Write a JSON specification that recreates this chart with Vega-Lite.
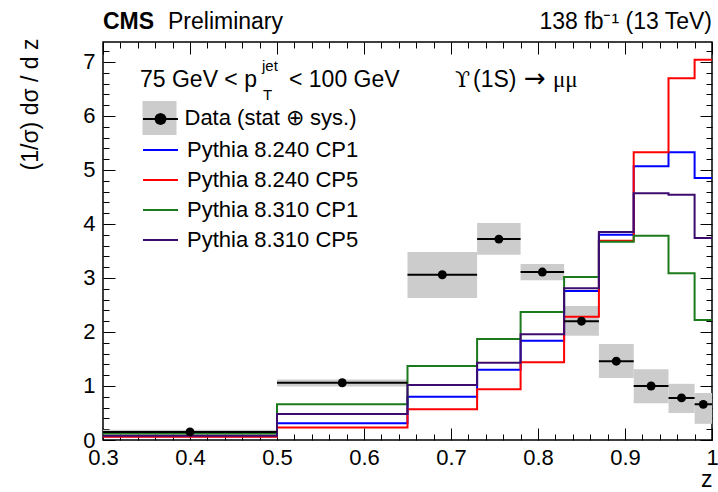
{
  "$schema": "https://vega.github.io/schema/vega-lite/v6.json",
  "width": 609,
  "height": 398,
  "autosize": {"type": "none"},
  "padding": {"left": 103, "top": 42, "right": 6, "bottom": 52},
  "background": "white",
  "config": {
    "view": {"stroke": "black", "strokeWidth": 1.5},
    "font": "Liberation Sans",
    "axis": {"grid": false, "domain": false, "labelFont": "Liberation Sans", "labelFontSize": 22, "labelColor": "black", "tickColor": "black", "tickWidth": 1, "titleFont": "Liberation Sans", "titleFontSize": 23, "titleFontWeight": "normal", "titleColor": "black", "labelFlush": false, "labelOverlap": false},
    "legend": {"labelFont": "Liberation Sans", "labelFontSize": 22, "labelColor": "black", "labelLimit": 500, "padding": 0, "rowPadding": 0, "offset": 0}
  },
  "datasets": {
    "data": [
      {"lo": 0.30, "hi": 0.50, "z": 0.400, "v": 0.15, "elo": 0.10, "ehi": 0.19},
      {"lo": 0.50, "hi": 0.65, "z": 0.575, "v": 1.06, "elo": 0.99, "ehi": 1.12},
      {"lo": 0.65, "hi": 0.73, "z": 0.690, "v": 3.06, "elo": 2.63, "ehi": 3.48},
      {"lo": 0.73, "hi": 0.78, "z": 0.755, "v": 3.72, "elo": 3.43, "ehi": 4.02},
      {"lo": 0.78, "hi": 0.83, "z": 0.805, "v": 3.11, "elo": 2.96, "ehi": 3.26},
      {"lo": 0.83, "hi": 0.87, "z": 0.850, "v": 2.20, "elo": 1.93, "ehi": 2.48},
      {"lo": 0.87, "hi": 0.91, "z": 0.890, "v": 1.46, "elo": 1.15, "ehi": 1.78},
      {"lo": 0.91, "hi": 0.95, "z": 0.930, "v": 1.00, "elo": 0.68, "ehi": 1.31},
      {"lo": 0.95, "hi": 0.98, "z": 0.965, "v": 0.78, "elo": 0.50, "ehi": 1.04},
      {"lo": 0.98, "hi": 1.00, "z": 0.990, "v": 0.66, "elo": 0.30, "ehi": 0.87}
    ],
    "mc": [
      {"s": "Pythia 8.240 CP1", "z": 0.30, "v": 0.07},
      {"s": "Pythia 8.240 CP1", "z": 0.50, "v": 0.31},
      {"s": "Pythia 8.240 CP1", "z": 0.65, "v": 0.80},
      {"s": "Pythia 8.240 CP1", "z": 0.73, "v": 1.30},
      {"s": "Pythia 8.240 CP1", "z": 0.78, "v": 1.84},
      {"s": "Pythia 8.240 CP1", "z": 0.83, "v": 2.76},
      {"s": "Pythia 8.240 CP1", "z": 0.87, "v": 3.80},
      {"s": "Pythia 8.240 CP1", "z": 0.91, "v": 5.07},
      {"s": "Pythia 8.240 CP1", "z": 0.95, "v": 5.33},
      {"s": "Pythia 8.240 CP1", "z": 0.98, "v": 4.85},
      {"s": "Pythia 8.240 CP1", "z": 1.00, "v": 4.85},
      {"s": "Pythia 8.240 CP5", "z": 0.30, "v": 0.06},
      {"s": "Pythia 8.240 CP5", "z": 0.50, "v": 0.23},
      {"s": "Pythia 8.240 CP5", "z": 0.65, "v": 0.57},
      {"s": "Pythia 8.240 CP5", "z": 0.73, "v": 0.94},
      {"s": "Pythia 8.240 CP5", "z": 0.78, "v": 1.44},
      {"s": "Pythia 8.240 CP5", "z": 0.83, "v": 2.28},
      {"s": "Pythia 8.240 CP5", "z": 0.87, "v": 3.69},
      {"s": "Pythia 8.240 CP5", "z": 0.91, "v": 5.33},
      {"s": "Pythia 8.240 CP5", "z": 0.95, "v": 6.70},
      {"s": "Pythia 8.240 CP5", "z": 0.98, "v": 7.04},
      {"s": "Pythia 8.240 CP5", "z": 1.00, "v": 7.04},
      {"s": "Pythia 8.310 CP1", "z": 0.30, "v": 0.12},
      {"s": "Pythia 8.310 CP1", "z": 0.50, "v": 0.66},
      {"s": "Pythia 8.310 CP1", "z": 0.65, "v": 1.37},
      {"s": "Pythia 8.310 CP1", "z": 0.73, "v": 1.87},
      {"s": "Pythia 8.310 CP1", "z": 0.78, "v": 2.37},
      {"s": "Pythia 8.310 CP1", "z": 0.83, "v": 3.02},
      {"s": "Pythia 8.310 CP1", "z": 0.87, "v": 3.67},
      {"s": "Pythia 8.310 CP1", "z": 0.91, "v": 3.78},
      {"s": "Pythia 8.310 CP1", "z": 0.95, "v": 3.09},
      {"s": "Pythia 8.310 CP1", "z": 0.98, "v": 2.22},
      {"s": "Pythia 8.310 CP1", "z": 1.00, "v": 2.22},
      {"s": "Pythia 8.310 CP5", "z": 0.30, "v": 0.08},
      {"s": "Pythia 8.310 CP5", "z": 0.50, "v": 0.48},
      {"s": "Pythia 8.310 CP5", "z": 0.65, "v": 1.02},
      {"s": "Pythia 8.310 CP5", "z": 0.73, "v": 1.43},
      {"s": "Pythia 8.310 CP5", "z": 0.78, "v": 1.96},
      {"s": "Pythia 8.310 CP5", "z": 0.83, "v": 2.81},
      {"s": "Pythia 8.310 CP5", "z": 0.87, "v": 3.85},
      {"s": "Pythia 8.310 CP5", "z": 0.91, "v": 4.57},
      {"s": "Pythia 8.310 CP5", "z": 0.95, "v": 4.54},
      {"s": "Pythia 8.310 CP5", "z": 0.98, "v": 3.74},
      {"s": "Pythia 8.310 CP5", "z": 1.00, "v": 3.74}
    ]
  },
  "resolve": {"axis": {"x": "independent", "y": "independent"}},
  "layer": [
    {
      "data": {"name": "data"},
      "mark": {"type": "rect", "color": "#cccccc"},
      "encoding": {
        "x": {"field": "lo", "type": "quantitative",
          "scale": {"domain": [0.3, 1.0], "nice": false, "zero": false},
          "axis": {"orient": "bottom", "values": [0.3, 0.4, 0.5, 0.6, 0.7, 0.8, 0.9, 1.0], "tickSize": -12, "labelPadding": 19,
            "labelExpr": "datum.value >= 0.999 ? '1' : format(datum.value, '.1f')",
            "title": "z", "titleAlign": "right", "titleBaseline": "alphabetic", "titleX": 609, "titleY": 46}},
        "x2": {"field": "hi"},
        "y": {"field": "elo", "type": "quantitative",
          "scale": {"domain": [0, 7.37], "nice": false, "zero": false},
          "axis": {"orient": "left", "values": [0, 1, 2, 3, 4, 5, 6, 7], "tickSize": -12, "labelPadding": 20,
            "title": "(1/σ) dσ / d z", "titleAngle": -90, "titleAlign": "right", "titleBaseline": "alphabetic", "titleX": -66, "titleY": -4}},
        "y2": {"field": "ehi"},
        "fill": {"datum": "Data (stat ⊕ sys.)", "type": "nominal", "scale": {"range": ["#cccccc"]},
          "legend": {"orient": "none", "legendX": 39.5, "legendY": 59, "title": null, "symbolType": "square", "symbolSize": 1156, "symbolStrokeWidth": 0, "labelOffset": 8, "zindex": 1}}
      }
    },
    {
      "data": {"name": "mc"},
      "mark": {"type": "line", "interpolate": "step-after", "strokeWidth": 2},
      "encoding": {
        "x": {"field": "z", "type": "quantitative",
          "axis": {"orient": "top", "values": [0.3, 0.4, 0.5, 0.6, 0.7, 0.8, 0.9, 1.0], "tickSize": -12, "labels": false, "title": null}},
        "y": {"field": "v", "type": "quantitative",
          "axis": {"orient": "right", "values": [0, 1, 2, 3, 4, 5, 6, 7], "tickSize": -12, "labels": false, "title": null}},
        "color": {"field": "s", "type": "nominal",
          "scale": {"domain": ["Pythia 8.240 CP1", "Pythia 8.240 CP5", "Pythia 8.310 CP1", "Pythia 8.310 CP5"], "range": ["#0000ff", "#ff0000", "#1b7a1b", "#3b0c6e"]},
          "legend": {"orient": "none", "legendX": 39, "legendY": 89.5, "title": null, "symbolType": "stroke", "symbolSize": 1225, "symbolStrokeWidth": 2, "labelOffset": 8}}
      }
    },
    {
      "data": {"name": "data"},
      "mark": {"type": "rule", "strokeWidth": 2, "color": "black"},
      "encoding": {
        "x": {"field": "lo", "type": "quantitative",
          "axis": {"orient": "bottom", "values": [0.32, 0.34, 0.36, 0.38, 0.42, 0.44, 0.46, 0.48, 0.52, 0.54, 0.56, 0.58, 0.62, 0.64, 0.66, 0.68, 0.72, 0.74, 0.76, 0.78, 0.82, 0.84, 0.86, 0.88, 0.92, 0.94, 0.96, 0.98], "tickSize": -6, "labels": false, "title": null}},
        "x2": {"field": "hi"},
        "y": {"field": "v", "type": "quantitative",
          "axis": {"orient": "left", "values": [0.2, 0.4, 0.6, 0.8, 1.2, 1.4, 1.6, 1.8, 2.2, 2.4, 2.6, 2.8, 3.2, 3.4, 3.6, 3.8, 4.2, 4.4, 4.6, 4.8, 5.2, 5.4, 5.6, 5.8, 6.2, 6.4, 6.6, 6.8, 7.2], "tickSize": -6, "labels": false, "title": null}},
        "strokeDash": {"datum": "Data", "type": "nominal", "scale": {"range": [[1, 0]]},
          "legend": {"orient": "none", "legendX": 39, "legendY": 58.5, "title": null, "labelExpr": "''", "zindex": 2,
            "symbolType": "M-1,0H1M-0.28,0A0.28,0.28,0,1,0,0.28,0A0.28,0.28,0,1,0,-0.28,0Z", "symbolSize": 1225, "symbolStrokeWidth": 2, "symbolStrokeColor": "black", "symbolFillColor": "black"}}
      }
    },
    {
      "data": {"name": "data"},
      "mark": {"type": "point", "filled": true, "size": 80, "color": "black", "opacity": 1},
      "encoding": {
        "x": {"field": "z", "type": "quantitative",
          "axis": {"orient": "top", "values": [0.32, 0.34, 0.36, 0.38, 0.42, 0.44, 0.46, 0.48, 0.52, 0.54, 0.56, 0.58, 0.62, 0.64, 0.66, 0.68, 0.72, 0.74, 0.76, 0.78, 0.82, 0.84, 0.86, 0.88, 0.92, 0.94, 0.96, 0.98], "tickSize": -6, "labels": false, "title": null}},
        "y": {"field": "v", "type": "quantitative",
          "axis": {"orient": "right", "values": [0.2, 0.4, 0.6, 0.8, 1.2, 1.4, 1.6, 1.8, 2.2, 2.4, 2.6, 2.8, 3.2, 3.4, 3.6, 3.8, 4.2, 4.4, 4.6, 4.8, 5.2, 5.4, 5.6, 5.8, 6.2, 6.4, 6.6, 6.8, 7.2], "tickSize": -6, "labels": false, "title": null}}
      }
    },
    {
      "data": {"values": [{}]},
      "mark": {"type": "text", "text": "CMS", "font": "Liberation Sans", "fontSize": 23, "fontWeight": "bold", "align": "left", "baseline": "alphabetic", "color": "black"},
      "encoding": {"x": {"datum": 0.3, "type": "quantitative", "axis": null}, "y": {"datum": 7.611, "type": "quantitative", "axis": null}}
    },
    {
      "data": {"values": [{}]},
      "mark": {"type": "text", "text": "Preliminary", "font": "Liberation Sans", "fontSize": 23, "align": "left", "baseline": "alphabetic", "color": "black"},
      "encoding": {"x": {"datum": 0.3747, "type": "quantitative", "axis": null}, "y": {"datum": 7.611, "type": "quantitative", "axis": null}}
    },
    {
      "data": {"values": [{}]},
      "mark": {"type": "text", "text": "138 fb⁻¹ (13 TeV)", "font": "Liberation Sans", "fontSize": 23, "align": "right", "baseline": "alphabetic", "color": "black"},
      "encoding": {"x": {"datum": 1.0, "type": "quantitative", "axis": null}, "y": {"datum": 7.611, "type": "quantitative", "axis": null}}
    },
    {
      "data": {"values": [{}]},
      "mark": {"type": "text", "text": "75 GeV < p", "font": "Liberation Sans", "fontSize": 23, "align": "left", "baseline": "alphabetic", "color": "black"},
      "encoding": {"x": {"datum": 0.3425, "type": "quantitative", "axis": null}, "y": {"datum": 6.537, "type": "quantitative", "axis": null}}
    },
    {
      "data": {"values": [{}]},
      "mark": {"type": "text", "text": "jet", "font": "Liberation Sans", "fontSize": 15, "align": "left", "baseline": "alphabetic", "color": "black"},
      "encoding": {"x": {"datum": 0.4828, "type": "quantitative", "axis": null}, "y": {"datum": 6.833, "type": "quantitative", "axis": null}}
    },
    {
      "data": {"values": [{}]},
      "mark": {"type": "text", "text": "T", "font": "Liberation Sans", "fontSize": 15, "align": "left", "baseline": "alphabetic", "color": "black"},
      "encoding": {"x": {"datum": 0.4840, "type": "quantitative", "axis": null}, "y": {"datum": 6.296, "type": "quantitative", "axis": null}}
    },
    {
      "data": {"values": [{}]},
      "mark": {"type": "text", "text": "< 100 GeV", "font": "Liberation Sans", "fontSize": 23, "align": "left", "baseline": "alphabetic", "color": "black"},
      "encoding": {"x": {"datum": 0.5138, "type": "quantitative", "axis": null}, "y": {"datum": 6.537, "type": "quantitative", "axis": null}}
    },
    {
      "data": {"values": [{}]},
      "mark": {"type": "text", "text": "ϒ", "font": "DejaVu Serif", "fontSize": 22, "align": "left", "baseline": "alphabetic", "color": "black"},
      "encoding": {"x": {"datum": 0.7046, "type": "quantitative", "axis": null}, "y": {"datum": 6.537, "type": "quantitative", "axis": null}}
    },
    {
      "data": {"values": [{}]},
      "mark": {"type": "text", "text": "(1S)", "font": "Liberation Sans", "fontSize": 23, "align": "left", "baseline": "alphabetic", "color": "black"},
      "encoding": {"x": {"datum": 0.7253, "type": "quantitative", "axis": null}, "y": {"datum": 6.537, "type": "quantitative", "axis": null}}
    },
    {
      "data": {"values": [{}]},
      "mark": {"type": "text", "text": "→", "font": "DejaVu Sans", "fontSize": 26, "align": "left", "baseline": "alphabetic", "color": "black"},
      "encoding": {"x": {"datum": 0.7839, "type": "quantitative", "axis": null}, "y": {"datum": 6.537, "type": "quantitative", "axis": null}}
    },
    {
      "data": {"values": [{}]},
      "mark": {"type": "text", "text": "μμ", "font": "Liberation Serif", "fontSize": 23, "align": "left", "baseline": "alphabetic", "color": "black"},
      "encoding": {"x": {"datum": 0.8172, "type": "quantitative", "axis": null}, "y": {"datum": 6.537, "type": "quantitative", "axis": null}}
    }
  ]
}
